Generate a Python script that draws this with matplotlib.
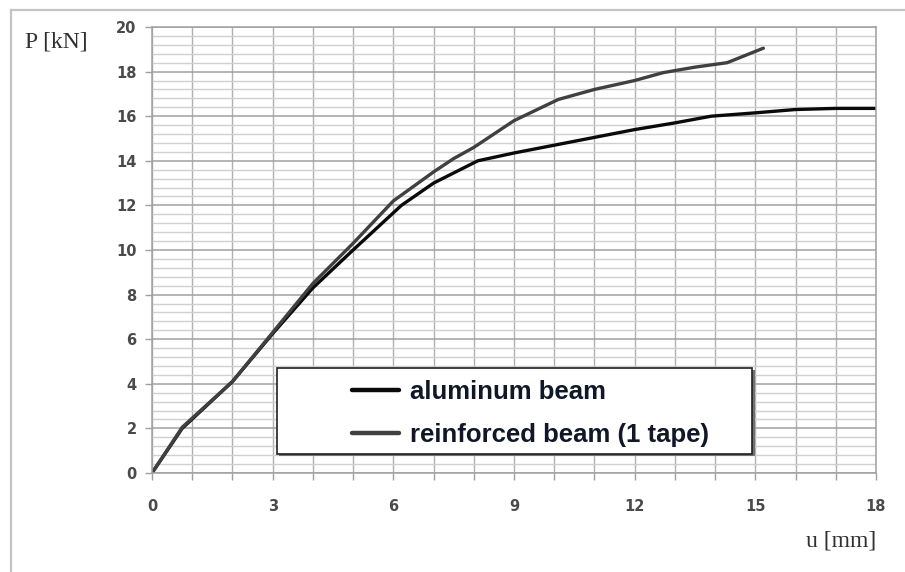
"""
Load-deflection curves: aluminum beam vs reinforced beam (1 tape).
Output: out.png
"""
import matplotlib
matplotlib.use('Agg')
import matplotlib.pyplot as plt
from matplotlib.patches import Rectangle
from matplotlib.lines import Line2D
from matplotlib.ticker import MultipleLocator

# ── Data ───────────────────────────────────────────────────────────────────
alu_u = [0, 0.75, 2, 3, 4, 5, 6.2, 7, 8.1, 9, 10, 11, 12, 13, 13.9, 15, 16, 17, 18]
alu_p = [0, 2.0, 4.1, 6.25, 8.3, 10.0, 12.0, 13.0, 14.0, 14.35, 14.7, 15.05,
         15.4, 15.7, 16.0, 16.15, 16.3, 16.35, 16.35]

rein_u = [0, 0.75, 2, 3, 4, 5, 6, 7, 7.5, 8, 9, 10.1, 11, 12, 12.7, 13.5, 14.3, 15.2]
rein_p = [0, 2.05, 4.1, 6.3, 8.5, 10.3, 12.2, 13.5, 14.1, 14.6, 15.8, 16.75,
          17.2, 17.6, 17.95, 18.2, 18.4, 19.05]

labels = ['aluminum beam', 'reinforced beam (1 tape)']
x_ticks = [0, 3, 6, 9, 12, 15, 18]
y_ticks = [0, 2, 4, 6, 8, 10, 12, 14, 16, 18, 20]

W, H = 905, 572
def fx(px): return px / W
def fy(py): return 1 - py / H

# ── Figure ─────────────────────────────────────────────────────────────────
fig = plt.figure(figsize=(W / 100, H / 100), dpi=100)
fig.patch.set_facecolor('white')

# outer frame (left and top only, rest is cropped)
fig.add_artist(Line2D([fx(11), fx(11)], [fy(10), fy(572)], color='#c4c4c4', lw=1.6))
fig.add_artist(Line2D([fx(11), fx(905)], [fy(10), fy(10)], color='#c4c4c4', lw=1.6))

ax = fig.add_axes([fx(152), fy(473), (876 - 152) / W, (473 - 27) / H])
ax.set_xlim(0, 18)
ax.set_ylim(0, 20)

ax.xaxis.set_minor_locator(MultipleLocator(1))
ax.yaxis.set_minor_locator(MultipleLocator(0.4))
ax.set_xticks(x_ticks)
ax.set_yticks(y_ticks)

ax.grid(True, which='major', axis='y', color='#a0a0a0', lw=1.1)
ax.grid(True, which='minor', axis='y', color='#d0d0d0', lw=1.0)
ax.grid(True, which='both', axis='x', color='#b0b0b0', lw=1.0)
ax.set_axisbelow(True)

for s in ax.spines.values():
    s.set_color('#a0a0a0')
    s.set_linewidth(1.1)

ax.tick_params(axis='x', which='both', length=5, width=1, color='#a0a0a0',
               direction='out', pad=14, labelsize=10.5, labelcolor='#4a4a4a')
ax.tick_params(axis='y', which='major', length=5, width=1, color='#a0a0a0',
               direction='out', pad=6, labelsize=10.5, labelcolor='#4a4a4a')
ax.tick_params(axis='y', which='minor', length=0)
for t in ax.get_xticklabels() + ax.get_yticklabels():
    t.set_fontweight('bold')

l1, = ax.plot(alu_u, alu_p, color='#0a0a0a', lw=2.4, solid_capstyle='round',
              solid_joinstyle='round', label=labels[0])
l2, = ax.plot(rein_u, rein_p, color='#404040', lw=2.4, solid_capstyle='round',
              solid_joinstyle='round', label=labels[1])

# axis titles
fig.text(fx(25), fy(42), 'P [kN]', family='Liberation Serif', fontsize=17,
         color='#303030', va='center', ha='left')
fig.text(fx(876), fy(541), 'u [mm]', family='Liberation Serif', fontsize=17,
         color='#303030', va='center', ha='right')

# legend frame + entries
fig.add_artist(Rectangle((fx(279), fy(456)), (755 - 279) / W, (456 - 370) / H,
                         transform=fig.transFigure, facecolor='#707070',
                         edgecolor='none', zorder=5))
fig.add_artist(Rectangle((fx(277), fy(454)), (752 - 277) / W, (454 - 368) / H,
                         transform=fig.transFigure, facecolor='white',
                         edgecolor='#202020', lw=1.2, zorder=6))
leg = fig.legend(handles=[l1, l2], loc='upper left',
                 bbox_to_anchor=(fx(339), fy(367)), frameon=False,
                 handlelength=1.85, handletextpad=0.4, labelspacing=0.75,
                 borderpad=0, prop={'family': 'Liberation Sans',
                                    'weight': 'bold', 'size': 18.5})
leg.set_zorder(7)
for h in leg.legend_handles:
    h.set_linewidth(3.2)
for t in leg.get_texts():
    t.set_color('#101828')

plt.savefig('out.png', dpi=100, facecolor='white')
plt.close(fig)
